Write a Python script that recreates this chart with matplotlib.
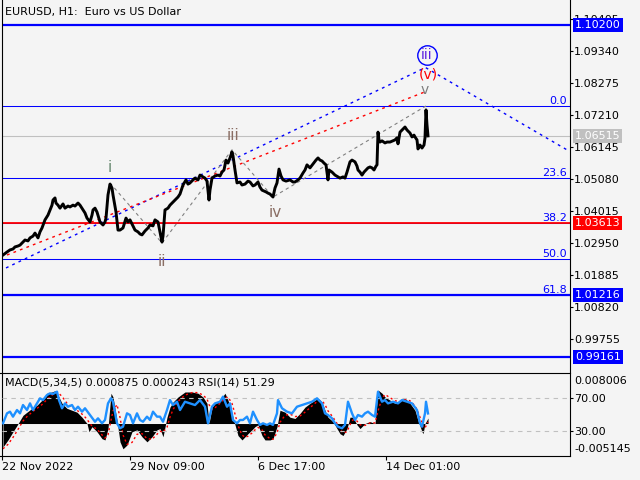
import matplotlib
matplotlib.use("Agg")
import matplotlib.pyplot as plt

# price trace (bar index, close)
bars = [1, 5, 8, 11, 13, 16, 18, 21, 23, 26, 28, 31, 33, 36, 38, 40, 43, 46, 48, 50,
        51, 53, 54, 56, 58, 61, 63, 66, 68, 71, 73, 76, 78, 81, 83, 85, 88, 90, 91, 93,
        95, 98, 101, 103, 104, 106, 108, 110, 111, 114, 116, 118, 121, 124, 126, 128, 131, 133, 136, 138,
        140, 143, 146, 148, 151, 153, 156, 158, 160, 161, 163, 166, 168, 171, 173, 176, 178, 181, 184, 186,
        188, 191, 193, 196, 198, 201, 203, 205, 207, 208, 210, 213, 216, 218, 220, 222, 224, 226, 228, 230,
        231, 233, 235, 238, 240, 243, 246, 248, 251, 253, 256, 258, 260, 262, 264, 266, 268, 270, 271, 273,
        275, 277, 279, 281, 284, 288, 291, 293, 296, 298, 301, 303, 305, 308, 311, 314, 316, 318, 320, 322,
        324, 326, 327, 330, 333, 336, 338, 341, 343, 345, 348, 350, 353, 355, 356, 358, 360, 362, 364, 366,
        368, 370, 372, 374, 375, 376, 377, 378, 380, 383, 385, 388, 391, 393, 395, 396, 398, 400, 403, 405,
        408, 410, 412, 413, 415, 416, 418, 420, 422, 423, 424, 425, 426]
close = [1.0255, 1.0265, 1.0272, 1.0275, 1.0282, 1.0285, 1.0288, 1.0298, 1.0305, 1.0302, 1.0312, 1.0318, 1.0328, 1.0312, 1.0332, 1.0345, 1.0372, 1.0388, 1.0405, 1.0421,
         1.0438, 1.0445, 1.0428, 1.0421, 1.0411, 1.0425, 1.0411, 1.0418, 1.0415, 1.0421, 1.0418, 1.0428, 1.0421, 1.0405, 1.0395, 1.0378, 1.0365, 1.0388, 1.0405, 1.0411,
         1.0398, 1.0365, 1.0355, 1.0365, 1.0378, 1.0455, 1.0491, 1.0478, 1.0455, 1.0398, 1.0338, 1.0338, 1.0345, 1.0378, 1.0365, 1.0372, 1.0352, 1.0338, 1.0332, 1.0325,
         1.0322, 1.0335, 1.0345, 1.0355, 1.0352, 1.0372, 1.0365, 1.0332, 1.0298, 1.0318, 1.0405, 1.0411, 1.0421, 1.0431, 1.0438, 1.0448, 1.0458, 1.0488, 1.0505, 1.0491,
         1.0495, 1.0505, 1.0511, 1.0505, 1.0521, 1.0515, 1.0511, 1.0501, 1.0438, 1.0471, 1.0511, 1.0518, 1.0521, 1.0518, 1.0531, 1.0538, 1.0571, 1.0561, 1.0578, 1.0598,
         1.0585, 1.0538, 1.0495, 1.0498, 1.0488, 1.0491, 1.0501, 1.0498, 1.0485, 1.0488, 1.0498, 1.0481, 1.0471, 1.0468, 1.0465, 1.0461, 1.0458, 1.0451, 1.0448, 1.0478,
         1.0495, 1.0541, 1.0518, 1.0505, 1.0501, 1.0505, 1.0498, 1.0498, 1.0505, 1.0511, 1.0528, 1.0538, 1.0555, 1.0545, 1.0558, 1.0571, 1.0578, 1.0571, 1.0568, 1.0561,
         1.0555, 1.0505, 1.0538, 1.0531, 1.0521, 1.0515, 1.0511, 1.0515, 1.0511, 1.0531, 1.0565, 1.0571, 1.0565, 1.0551, 1.0538, 1.0531, 1.0521, 1.0531, 1.0538, 1.0545,
         1.0548, 1.0545, 1.0538, 1.0551, 1.0555, 1.0664, 1.0638, 1.0631, 1.0635, 1.0628, 1.0631, 1.0631, 1.0635, 1.0638, 1.0645, 1.0625, 1.0664, 1.0671, 1.0681, 1.0671,
         1.0661, 1.0648, 1.0654, 1.0648, 1.0638, 1.0608, 1.0621, 1.0611, 1.0621, 1.0645, 1.0738, 1.0688, 1.06515]

# MACD(5,34,5) main / signal
macd_bars = [1, 6, 11, 15, 18, 21, 25, 30, 35, 40, 45, 50, 53, 56, 60, 65, 70, 75, 80, 85,
             87, 90, 95, 100, 103, 106, 109, 111, 115, 118, 121, 125, 130, 135, 140, 145, 150, 155, 158, 161,
             165, 168, 171, 176, 183, 190, 196, 201, 205, 207, 210, 213, 218, 223, 226, 230, 233, 236, 240, 243,
             246, 250, 253, 256, 260, 263, 268, 271, 275, 278, 283, 288, 293, 298, 303, 308, 313, 316, 320, 323,
             326, 331, 335, 338, 341, 345, 348, 351, 355, 358, 363, 368, 373, 376, 380, 383, 388, 393, 398, 403,
             408, 413, 416, 420, 421, 423, 426]
macd = [-0.0037, -0.0026, -0.0013, -0.0003, 0.0005, 0.0013, 0.0018, 0.0024, 0.0029, 0.0037, 0.0048, 0.0050, 0.0052, 0.0045, 0.0032, 0.0024, 0.0021, 0.0018, 0.0010, 0.0000,
        -0.0013, -0.0005, -0.0013, -0.0024, -0.0026, -0.0008, 0.0048, 0.0042, 0.0005, -0.0029, -0.0040, -0.0034, -0.0013, -0.0010, -0.0021, -0.0029, -0.0021, -0.0010, -0.0008, -0.0021,
        0.0010, 0.0026, 0.0034, 0.0042, 0.0050, 0.0050, 0.0048, 0.0042, 0.0032, 0.0000, 0.0026, 0.0032, 0.0037, 0.0048, 0.0037, 0.0016, -0.0002, -0.0019, -0.0026, -0.0021,
        -0.0016, -0.0010, -0.0005, -0.0002, -0.0019, -0.0026, -0.0026, -0.0024, -0.0005, 0.0021, 0.0018, 0.0010, 0.0008, 0.0016, 0.0026, 0.0032, 0.0037, 0.0040, 0.0034, 0.0021,
        0.0010, 0.0003, -0.0008, -0.0016, -0.0019, -0.0008, 0.0010, 0.0010, -0.0002, -0.0008, 0.0000, 0.0003, 0.0000, 0.0053, 0.0048, 0.0042, 0.0037, 0.0032, 0.0037, 0.0040,
        0.0032, 0.0021, 0.0005, -0.0013, -0.0016, 0.0000, 0.000875]
signal = [-0.0040, -0.0033, -0.0022, -0.0012, -0.0004, 0.0004, 0.0011, 0.0018, 0.0024, 0.0030, 0.0038, 0.0045, 0.0049, 0.0049, 0.0043, 0.0032, 0.0025, 0.0021, 0.0015, 0.0007,
          0.0002, -0.0004, -0.0009, -0.0018, -0.0023, -0.0018, 0.0005, 0.0020, 0.0030, 0.0010, -0.0018, -0.0033, -0.0030, -0.0017, -0.0016, -0.0024, -0.0025, -0.0017, -0.0012, -0.0014,
          -0.0006, 0.0010, 0.0022, 0.0035, 0.0045, 0.0049, 0.0049, 0.0045, 0.0039, 0.0030, 0.0022, 0.0025, 0.0032, 0.0040, 0.0042, 0.0032, 0.0015, -0.0003, -0.0018, -0.0022,
          -0.0020, -0.0015, -0.0010, -0.0006, -0.0010, -0.0018, -0.0024, -0.0025, -0.0015, 0.0002, 0.0013, 0.0015, 0.0011, 0.0012, 0.0018, 0.0025, 0.0032, 0.0036, 0.0036, 0.0030,
          0.0020, 0.0010, 0.0000, -0.0009, -0.0015, -0.0013, -0.0002, 0.0006, 0.0004, -0.0002, -0.0003, 0.0001, 0.0001, 0.0020, 0.0040, 0.0046, 0.0041, 0.0036, 0.0035, 0.0038,
          0.0036, 0.0028, 0.0018, 0.0002, -0.0006, -0.0007, 0.000243]

# RSI(14)
rsi_bars = [1, 5, 8, 11, 15, 18, 21, 25, 28, 31, 35, 38, 41, 45, 48, 51, 55, 57, 60, 63,
            66, 70, 73, 76, 80, 83, 88, 93, 96, 100, 103, 106, 109, 111, 115, 118, 121, 125, 128, 131,
            135, 138, 141, 145, 148, 151, 155, 158, 161, 165, 168, 171, 175, 178, 183, 188, 193, 198, 203, 206,
            210, 213, 218, 221, 225, 228, 231, 235, 238, 241, 245, 248, 251, 255, 258, 261, 265, 268, 271, 275,
            276, 280, 285, 290, 295, 300, 305, 310, 315, 320, 323, 326, 330, 333, 336, 340, 343, 346, 350, 353,
            356, 360, 363, 366, 370, 373, 376, 380, 383, 386, 391, 396, 400, 405, 410, 415, 418, 420, 423, 424, 426]
rsi = [39.4, 51.4, 53.4, 47.4, 55.4, 51.4, 61.4, 55.4, 63.4, 55.4, 63.4, 69.5, 67.4, 73.5, 75.5, 74.7, 77.5, 67.4, 57.5, 63.4,
       59.4, 61.4, 55.4, 59.4, 53.4, 57.5, 49.4, 41.3, 45.4, 39.4, 43.4, 63.4, 69.5, 65.4, 39.4, 33.4, 35.3, 51.4, 49.4, 39.4,
       51.4, 43.4, 41.3, 47.4, 43.4, 53.4, 47.4, 47.4, 41.3, 55.4, 67.4, 61.4, 65.4, 55.4, 65.4, 63.4, 61.4, 67.4, 59.4, 39.4,
       59.4, 63.4, 65.4, 71.5, 59.4, 63.4, 43.4, 39.4, 43.4, 43.4, 47.4, 39.4, 53.4, 43.4, 37.4, 39.4, 37.4, 39.4, 37.4, 51.4,
       67.4, 57.5, 53.4, 51.4, 59.4, 61.4, 63.4, 65.4, 69.5, 63.4, 51.4, 49.4, 45.4, 39.4, 35.3, 33.4, 37.4, 65.4, 51.4, 43.4,
       49.4, 47.4, 51.4, 53.4, 49.4, 47.4, 77.5, 65.4, 67.4, 63.4, 65.4, 63.4, 67.4, 65.4, 63.4, 55.4, 39.4, 35.3, 51.4, 65.4, 51.29]

# elliott wave points and labels
wave_bars = [108, 160, 230, 271, 424]
wave_prices = [1.0495, 1.0295, 1.0605, 1.0448, 1.0751]
label_text = ['i', 'ii', 'iii', 'iv', 'v']
label_bars = [108, 160, 231, 273, 423]
label_prices = [1.0545, 1.0232, 1.0654, 1.0398, 1.0803]
label_colors = ['#6a8a72', '#8a6e64', '#8a6e64', '#8a6e64', '#7c7c7c']

# trend lines
blue_bars = [4, 423.5, 565]
blue_prices = [1.0212, 1.0879, 1.0605]
red_bars = [5, 423]
red_prices = [1.0255, 1.0798]

# horizontal levels
blue_levels = [1.10200, 1.01216, 0.99161]
red_level = 1.03613
last_price = 1.06515
fib_pcts = [0.0, 23.6, 38.2, 50.0, 61.8]
fib_top = 1.0751
fib_range = 0.1018

price_ticks = [1.10405, 1.09340, 1.08275, 1.07210, 1.06145, 1.05080, 1.04015, 1.02950, 1.01885, 1.00820, 0.99755]
date_ticks = [0, 128, 256, 384]
date_labels = ['22 Nov 2022', '29 Nov 09:00', '6 Dec 17:00', '14 Dec 01:00']

BG = '#f4f4f4'
BLUE = '#0000ff'
RED = '#ff0000'
W, H = 640, 480


def box(l, t, r, b):
    return [l / W, 1 - b / H, (r - l) / W, (b - t) / H]


fig = plt.figure(figsize=(6.4, 4.8), dpi=100, facecolor=BG)
ax = fig.add_axes(box(2, 0, 570, 372), facecolor=BG)
ax2 = fig.add_axes(box(2, 373, 570, 456), facecolor=BG)

"""main price window"""
ax.set_xlim(0, 568)
ax.set_ylim(0.98657, 1.11037)
ax.set_xticks([])
for s in ['top', 'bottom']:
    ax.spines[s].set_visible(False)
for s in ['left', 'right']:
    ax.spines[s].set_linewidth(0.8)
ax.yaxis.tick_right()
ax.set_yticks(price_ticks)
ax.set_yticklabels(['%.5f' % p for p in price_ticks])
ax.tick_params(axis='y', length=2.5, width=0.8, pad=0.5, labelsize=8)

for pct in fib_pcts:
    p = fib_top - pct / 100 * fib_range
    ax.axhline(p, color=BLUE, lw=0.75, zorder=1)
    ax.text(0.995, p, '%.1f' % pct, transform=ax.get_yaxis_transform(),
            ha='right', va='bottom', color=BLUE, fontsize=8)
for p in blue_levels:
    ax.axhline(p, color=BLUE, lw=1.6, zorder=1)
ax.axhline(red_level, color=RED, lw=1.3, zorder=1)
ax.axhline(last_price, color='#c0c0c0', lw=0.8, zorder=1)

ax.plot(blue_bars, blue_prices, color=BLUE, lw=1, ls=(0, (2, 3)), zorder=2)
ax.plot(red_bars, red_prices, color=RED, lw=1, ls=(0, (2, 3)), zorder=2)
ax.plot(wave_bars, wave_prices, color='#808080', lw=0.8, ls=(0, (3, 3)), zorder=2)

ax.plot(bars, close, color='black', lw=2.1, zorder=3)

for t, x, p, c in zip(label_text, label_bars, label_prices, label_colors):
    ax.text(x, p, t, ha='center', va='center', fontsize=11 if t != 'v' else 10, color=c, zorder=4)
ax.text(426, 1.0856, '(v)', ha='center', va='center', fontsize=10, color=RED, zorder=4)
ax.plot([425], [1.0921], marker='o', ms=14, mfc='none', mec=BLUE, mew=1, zorder=4)
ax.text(425, 1.0921, 'iii', ha='center', va='center', fontsize=10, color='#5a1ee0', zorder=5)

for p, c in [(blue_levels[0], BLUE), (last_price, '#c0c0c0'), (red_level, RED),
             (blue_levels[1], BLUE), (blue_levels[2], BLUE)]:
    ax.text(1.009, p, '%.5f' % p, transform=ax.get_yaxis_transform(), ha='left', va='center',
            fontsize=8, color='white', clip_on=False, zorder=6,
            bbox=dict(boxstyle='square,pad=0.15', fc=c, ec='none'))

fig.text(5 / W, 1 - 12 / H, 'EURUSD, H1:  Euro vs US Dollar', fontsize=8, va='center')

"""indicator window"""
ax2.set_xlim(0, 568)
ax2.set_ylim(-0.005145, 0.008006)
for s in ax2.spines.values():
    s.set_linewidth(0.8)
ax2.fill_between(macd_bars, 0, macd, color='black', lw=0)
ax2.plot(macd_bars, signal, color=RED, lw=1, ls=(0, (1.5, 2)))
ax2.yaxis.tick_right()
ax2.set_yticks([0.008006, -0.005145])
ax2.set_yticklabels([])
ax2.tick_params(axis='y', length=2.5, width=0.8)
ax2.text(1.008, 0.904, '0.008006', transform=ax2.transAxes, fontsize=8, va='center')
ax2.text(1.008, 0.084, '-0.005145', transform=ax2.transAxes, fontsize=8, va='center')
ax2.text(0.005, 0.88, 'MACD(5,34,5) 0.000875 0.000243 RSI(14) 51.29', transform=ax2.transAxes,
         fontsize=8, va='center')

ax2.set_xticks(date_ticks)
ax2.set_xticklabels(date_labels)
ax2.tick_params(axis='x', length=3, width=0.8, pad=1, labelsize=8)
for lbl in ax2.get_xticklabels():
    lbl.set_ha('left')

ax3 = ax2.twinx()
ax3.set_ylim(0, 100)
ax3.patch.set_visible(False)
for s in ax3.spines.values():
    s.set_visible(False)
ax3.axhline(70, color='#c0c0c0', lw=0.8, ls=(0, (4, 4)))
ax3.axhline(30, color='#c0c0c0', lw=0.8, ls=(0, (4, 4)))
ax3.plot(rsi_bars, rsi, color='#1e90ff', lw=1.7)
ax3.set_yticks([70, 30])
ax3.set_yticklabels(['70.00', '30.00'])
ax3.tick_params(axis='y', length=2.5, width=0.8, pad=0.5, labelsize=8)

fig.savefig('out.png', dpi=100, facecolor=BG)
